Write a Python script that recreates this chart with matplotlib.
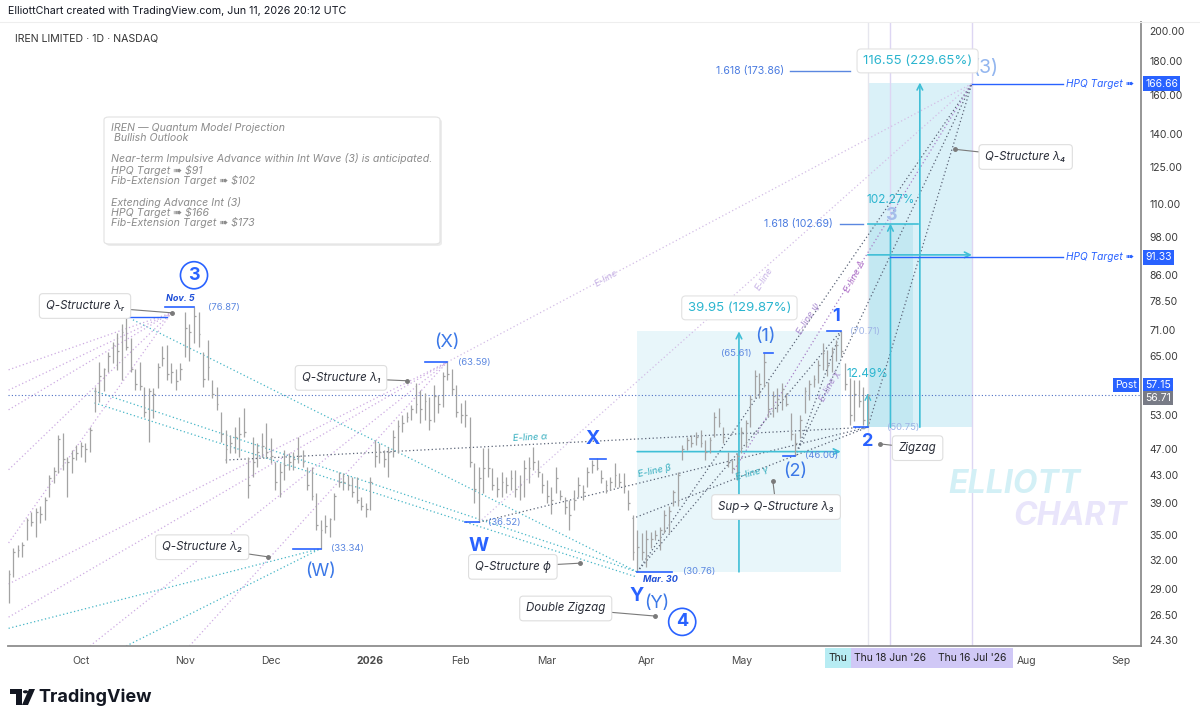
import numpy as np
import pandas as pd
import matplotlib
matplotlib.use('Agg')
import matplotlib.pyplot as plt
import matplotlib.transforms as mtransforms
from matplotlib.patches import Rectangle, FancyBboxPatch, Polygon, Circle
from matplotlib.ticker import FixedLocator, NullLocator, FuncFormatter

plt.rcParams['font.family'] = ['Inter', 'DejaVu Sans']

# ---------------- data ----------------
first_bar = '2025-09-09'
holidays = ['2025-11-27', '2025-12-25', '2026-01-01', '2026-01-19', '2026-02-16',
            '2026-04-03', '2026-05-25', '2026-06-19', '2026-07-03', '2026-09-07']

highs = [31.0, 33.4, 33.8, 34.1, 37.1, 37.8, 38.4, 38.6, 39.9, 43.0,
         44.2, 49.4, 49.8, 45.8, 46.9, 47.7, 48.3, 48.1, 50.8, 58.3,
         63.5, 62.3, 65.8, 68.2, 70.2, 72.6, 74.1, 69.1, 62.1, 63.5,
         58.3, 58.1, 58.1, 63.3, 67.2, 67.4, 63.3, 62.1, 63.3, 75.5,
         72.6, 76.87, 75.6, 65.8, 68.6, 59.8, 58.3, 53.5, 50.3, 49.4,
         50.8, 52.5, 54.3, 45.8, 49.1, 48.1, 49.8, 51.5, 48.9, 45.0,
         44.8, 46.9, 46.4, 46.6, 49.1, 46.9, 44.2, 44.2, 40.4, 36.8,
         37.5, 37.1, 40.4, 43.5, 43.3, 43.0, 42.7, 42.7, 39.8, 39.0,
         42.7, 48.6, 48.1, 46.9, 47.4, 50.3, 52.0, 52.9, 53.5, 54.8,
         59.2, 57.7, 57.1, 56.4, 58.7, 56.7, 61.4, 63.59, 62.1, 58.7,
         55.2, 55.8, 52.5, 44.8, 44.2, 47.2, 47.2, 44.0, 42.7, 43.5,
         42.7, 43.8, 43.8, 43.0, 45.3, 45.8, 47.4, 45.3, 43.3, 42.3,
         41.2, 44.2, 40.8, 39.8, 39.4, 40.8, 42.7, 41.5, 44.2, 45.3,
         45.6, 43.8, 42.3, 42.7, 44.8, 43.3, 43.3, 40.8, 37.5, 35.6,
         35.2, 35.6, 35.3, 35.6, 35.9, 38.1, 38.6, 40.8, 43.5, 47.7,
         49.1, 49.4, 50.0, 50.3, 48.6, 49.1, 53.5, 54.3, 50.8, 46.6,
         45.3, 46.4, 50.8, 52.0, 56.7, 61.9, 61.3, 65.61, 59.4, 57.5,
         58.1, 59.2, 57.1, 53.3, 49.8, 52.9, 58.3, 59.8, 60.8, 64.0,
         67.9, 66.3, 67.0, 68.6, 70.71, 63.3, 60.2, 59.8, 59.8, 58.3,
         56.9]
lows = [27.6, 30.2, 32.4, 32.4, 34.3, 36.0, 34.7, 36.4, 36.8, 39.8,
        41.8, 43.3, 43.8, 39.8, 43.3, 45.3, 45.8, 45.0, 46.6, 53.5,
        55.4, 57.5, 61.5, 63.3, 61.9, 59.8, 66.3, 61.5, 57.7, 57.7,
        52.5, 48.2, 52.4, 58.1, 62.7, 59.8, 59.2, 57.7, 59.8, 64.6,
        63.8, 68.0, 67.0, 58.3, 59.8, 56.2, 53.9, 48.2, 44.8, 46.4,
        46.4, 45.8, 49.1, 39.7, 42.7, 44.2, 45.8, 45.8, 44.8, 40.8,
        39.8, 42.3, 43.8, 43.8, 44.8, 44.2, 40.8, 39.4, 35.6, 33.34,
        35.2, 34.7, 36.8, 41.2, 40.8, 40.8, 39.8, 39.0, 38.1, 37.2,
        38.1, 44.2, 44.8, 44.2, 42.7, 45.8, 46.4, 49.9, 51.6, 52.0,
        53.3, 51.5, 52.0, 50.3, 51.6, 53.3, 54.4, 59.8, 56.7, 52.5,
        51.5, 50.8, 44.2, 39.0, 36.52, 40.4, 42.7, 40.8, 39.8, 39.8,
        40.4, 40.8, 39.8, 39.4, 39.8, 41.8, 43.8, 42.7, 40.4, 39.0,
        37.6, 40.4, 39.4, 37.6, 35.6, 38.1, 39.8, 39.4, 41.2, 43.3,
        43.8, 41.8, 40.4, 40.8, 41.2, 41.2, 40.4, 38.1, 32.0, 30.76,
        32.0, 31.3, 33.4, 34.3, 33.2, 35.2, 35.2, 38.6, 38.6, 45.3,
        46.9, 47.4, 47.7, 47.4, 45.3, 46.4, 49.1, 50.8, 48.1, 44.2,
        43.3, 42.3, 46.4, 47.4, 50.8, 56.2, 56.2, 58.3, 52.5, 52.5,
        53.5, 53.9, 54.6, 48.6, 46.0, 48.9, 53.3, 55.8, 58.3, 59.2,
        61.9, 60.6, 61.5, 63.8, 64.8, 57.7, 51.1, 51.8, 54.4, 51.1,
        50.75]
closes = [30.5, 33.0, 33.2, 33.8, 36.8, 36.5, 37.8, 37.6, 39.5, 42.5,
          43.6, 48.8, 45.5, 45.0, 45.6, 46.4, 47.5, 47.0, 50.2, 57.5,
          60.5, 62.0, 65.0, 67.5, 66.0, 70.5, 67.0, 62.0, 59.0, 58.5,
          53.5, 57.5, 57.0, 62.5, 64.5, 61.0, 61.5, 59.5, 62.0, 71.5,
          70.5, 74.5, 70.0, 60.0, 62.5, 57.0, 55.0, 49.5, 47.0, 48.0,
          49.0, 49.5, 50.0, 41.5, 45.0, 46.5, 47.5, 46.5, 46.0, 42.0,
          43.5, 44.5, 45.0, 45.5, 46.0, 45.0, 41.5, 40.0, 36.2, 35.5,
          36.0, 37.0, 40.0, 42.0, 42.0, 41.5, 40.5, 39.5, 38.7, 38.3,
          42.0, 46.0, 46.5, 45.5, 46.5, 49.0, 51.0, 51.5, 52.5, 54.0,
          55.0, 54.0, 55.5, 52.0, 56.5, 55.0, 60.5, 61.0, 58.0, 53.5,
          53.0, 53.0, 45.0, 41.0, 42.5, 44.0, 44.0, 41.5, 41.0, 42.0,
          41.5, 42.5, 41.0, 41.5, 44.0, 44.0, 45.0, 43.5, 41.5, 40.0,
          39.5, 42.5, 40.0, 38.5, 37.5, 39.5, 41.5, 40.5, 43.5, 44.5,
          44.0, 42.5, 41.5, 42.0, 43.0, 42.0, 41.5, 39.0, 33.0, 33.5,
          33.0, 34.5, 34.5, 35.0, 35.5, 37.5, 38.0, 40.5, 43.0, 47.0,
          48.5, 48.0, 49.0, 48.0, 46.5, 48.5, 52.5, 51.5, 49.0, 45.0,
          44.0, 46.0, 50.0, 51.5, 56.0, 60.5, 59.0, 63.5, 54.0, 56.5,
          56.0, 58.0, 55.0, 49.5, 48.0, 52.0, 57.5, 59.0, 60.0, 63.0,
          65.5, 63.0, 66.0, 67.5, 66.0, 59.0, 53.0, 57.0, 55.5, 52.0,
          56.71]

# wave pivots
pivot_dates = {'3': '2025-11-05', '(W)': '2025-12-16', '(X)': '2026-01-28',
               'W': '2026-02-06', 'X': '2026-03-17', 'Y': '2026-03-30',
               '(1)': '2026-05-08', '(2)': '2026-05-19', '1': '2026-06-03',
               '2': '2026-06-11', '(3)': '2026-07-16'}
pivot_prices = {'3': 76.87, '(W)': 33.34, '(X)': 63.59, 'W': 36.52, 'X': 45.6,
                'Y': 30.76, '(1)': 65.61, '(2)': 46.00, '1': 70.71, '2': 50.75,
                '(3)': 166.66}

# projections: (start date, end date, base, gain, percent)
proj_a = ('2026-03-30', '2026-06-03', 30.76, 39.95, 129.87)
proj_b = ('2026-06-11', '2026-07-16', 50.75, 116.55, 229.65)
proj_c = ('2026-06-11', '2026-06-26', 50.75, 51.90, 102.27)
last_leg_pct = 12.49
fib_levels = [173.86, 102.69]
hpq_targets = [166.66, 91.33]
last_close = 56.71
post_price = 57.15

y_ticks = [24.30, 26.50, 29.00, 32.00, 35.00, 39.00, 43.00, 47.00, 53.00, 65.00,
           71.00, 78.50, 86.00, 98.00, 110.00, 125.00, 140.00, 160.00, 180.00, 200.00]

# ---------------- setup ----------------
dates = pd.bdate_range(first_bar, '2026-10-30', freq='C', holidays=holidays)
kpos = {d.strftime('%Y-%m-%d'): i for i, d in enumerate(dates)}


def K(d):
    return kpos[d]


def pk(name):
    return K(pivot_dates[name]), pivot_prices[name]


def off(dx, dy):
    return (dx * 0.72, dy * 0.72)


BLUE = '#2962ff'
LBLUE = '#3b78e7'
CYAN = '#3fbfd6'
TEAL = '#45b5c6'
PURP = '#cdabe2'
DARK = '#5b6477'

fig = plt.figure(figsize=(12, 7.24), dpi=100)
ax = fig.add_axes([8 / 1200, 78 / 724, 1133 / 1200, 624 / 724])
ax.set_yscale('log')
ax.set_xlim(-0.13, 250.4)
ax.set_ylim(23.8, 206.3)

for s in ['top', 'left']:
    ax.spines[s].set_visible(False)
for s in ['right', 'bottom']:
    ax.spines[s].set_color('#8d8d8d')
    ax.spines[s].set_linewidth(1.3)

ax.yaxis.tick_right()
ax.yaxis.set_major_locator(FixedLocator(y_ticks))
ax.yaxis.set_minor_locator(NullLocator())
ax.yaxis.set_major_formatter(FuncFormatter(lambda v, p: f'{v:.2f}'))
ax.tick_params(axis='y', length=0, pad=6, labelsize=7.5, labelcolor='#3a3a3a')

# month ticks
mt, ml = [], []
for i in range(1, len(dates)):
    if dates[i].month != dates[i - 1].month and i < 251:
        m = dates[i].strftime('%b')
        if m in ('Jun', 'Jul'):
            continue
        mt.append(i)
        ml.append('2026' if dates[i].month == 1 else m)
ax.set_xticks(mt)
ax.set_xticklabels(ml)
ax.tick_params(axis='x', length=0, pad=7, labelsize=7.5, labelcolor='#4a4a4a')
for t in ax.get_xticklabels():
    if t.get_text() == '2026':
        t.set_fontweight('bold')

# ---------------- shaded projections ----------------
for (d0, d1, base, gain, _), fc in [(proj_a, '#e8f6fa'), (proj_b, '#daf1f8'), (proj_c, '#c3e8f2')]:
    k0, k1 = K(d0), K(d1)
    ax.add_patch(Rectangle((k0, base), k1 - k0, gain, fc=fc, ec='none', zorder=0))

for d0, d1, base, gain, _ in [proj_a, proj_b]:
    k0, k1 = K(d0), K(d1)
    kc = (k0 + k1) / 2
    mid = np.sqrt(base * (base + gain))
    ax.annotate('', xy=(kc, base + gain), xytext=(kc, base),
                arrowprops=dict(arrowstyle='->', color=CYAN, lw=1.2, shrinkA=0, shrinkB=0), zorder=2)
    ax.annotate('', xy=(k1, mid), xytext=(k0, mid),
                arrowprops=dict(arrowstyle='->', color=CYAN, lw=1.2, shrinkA=0, shrinkB=0), zorder=2)
kc0, kc1 = K(proj_c[0]), K(proj_c[1])
ax.annotate('', xy=((kc0 + kc1) / 2, proj_c[2] + proj_c[3]), xytext=((kc0 + kc1) / 2, proj_c[2]),
            arrowprops=dict(arrowstyle='->', color=CYAN, lw=1.2, shrinkA=0, shrinkB=0), zorder=2)
ax.plot([kc0, kc1 + 1], [proj_c[2] + proj_c[3]] * 2, color=CYAN, lw=1.2, zorder=2)
k2 = K(pivot_dates['2'])
ax.annotate('', xy=(k2, 50.75 * (1 + last_leg_pct / 100)), xytext=(k2, 50.75),
            arrowprops=dict(arrowstyle='->', color=CYAN, lw=1.0, shrinkA=0, shrinkB=0), zorder=2)

# vertical date lines
for d, c in [('2026-06-11', '#e6e6ee'), ('2026-06-18', '#ddd6f3'), ('2026-07-16', '#ddd6f3')]:
    ax.axvline(K(d), color=c, lw=1.0, zorder=0.5)

# ---------------- trend lines ----------------
T3 = pk('(3)')
lines = [
    # teal, down to Y / (W)
    ((27.5, 73.6), pk('Y'), TEAL), ((19, 57.5), pk('Y'), TEAL), ((19, 55.2), (139, 30.2), TEAL),
    ((0, 25.3), pk('(W)'), TEAL), ((26, 23.8), pk('(W)'), TEAL),
    # purple fans
    ((0, 61.9), (36, 75.4), PURP), ((0, 57.7), (36, 75.4), PURP), ((0, 53.9), (36, 75.4), PURP),
    ((0, 43.8), (36, 75.4), PURP), ((0, 34.0), (36, 75.4), PURP),
    ((0, 29.5), pk('(X)'), PURP), ((0, 26.3), pk('(X)'), PURP), ((18, 23.8), pk('(X)'), PURP),
    ((40, 23.8), pk('(X)'), PURP),
    (pk('(X)'), T3, '#d3bde6'), (pk('W'), T3, '#d3bde6'),
    # e-lines
    ((48, 45.3), pk('2'), DARK), (pk('W'), pk('2'), DARK), ((138, 37.0), pk('2'), DARK),
    (pk('Y'), T3, DARK), (pk('(2)'), T3, DARK), ((160, 43.3), T3, '#a77fc7'), (pk('2'), T3, DARK),
    (pk('Y'), pk('1'), DARK), (pk('(2)'), pk('1'), DARK),
]
for (xa, ya), (xb, yb), c in lines:
    ax.plot([xa, xb], [ya, yb], color=c, lw=0.9, ls=(0, (1, 2)), zorder=1)

ax.axhline(last_close, color='#4d6fc4', lw=0.8, ls=(0, (1, 2)), zorder=1)

# ---------------- OHLC bars ----------------
xs = np.arange(len(highs))
ax.vlines(xs, lows, highs, color='#a3a3a3', lw=0.9, zorder=3)
ax.hlines(closes, xs, xs + 0.4, color='#a3a3a3', lw=0.9, zorder=3)

# ---------------- wave labels ----------------
def wl(name, dx, dy, text=None, size=13, weight='normal', color=LBLUE, **kw):
    k, p = pk(name)
    ax.annotate(text or name, xy=(k, p), xytext=off(dx, dy), textcoords='offset points',
                ha='center', va='center', fontsize=size, fontweight=weight, color=color, zorder=7, **kw)


def lvl(name, k_from, dx, txt=None, ha='left', color='#5b87e0'):
    k, p = pk(name)
    ax.plot([k_from, k], [p, p], color=BLUE, lw=1.2, zorder=5)
    ax.annotate(txt or f'({p:.2f})', xy=(k, p), xytext=off(dx, 0), textcoords='offset points',
                ha=ha, va='center', fontsize=6.8, color=color, zorder=7)


circ = dict(boxstyle='circle,pad=0.28', fc='white', ec=BLUE, lw=1.2)
wl('3', 0, 32, size=13, weight='bold', color=BLUE, bbox=circ)
wl('3', -14, 9, text='Nov. 5', size=6.5, weight='bold', color='#1f4fd8', style='italic')
lvl('3', 34.6, 14)
ax.plot([26.2, 35], [74.2, 74.2], color=BLUE, lw=1.0, zorder=5)

wl('(W)', 0, -23)
lvl('(W)', 63, 10)
wl('(X)', 0, 20)
lvl('(X)', 92, 11)
wl('W', 0, -24, size=14, weight='bold', color=BLUE)
lvl('W', 101, 9)
wl('X', -4, 19, size=14, weight='bold', color=BLUE)
ax.plot([128.5, 132], [45.5, 45.5], color=BLUE, lw=1.2, zorder=5)
wl('Y', -1, -24, size=14, weight='bold', color=BLUE)
wl('Y', 19, -32, text='(Y)')
wl('Y', 45, -50, text='4', size=13, weight='bold', color=BLUE, bbox=circ)
wl('Y', 23, -8, text='Mar. 30', size=6.5, weight='bold', color='#1f4fd8', style='italic')
lvl('Y', 146.7, 46)
wl('(1)', 1, 17)
lvl('(1)', 169, -12, ha='right')
wl('(2)', 0, -16)
lvl('(2)', 171.2, 10)
wl('1', -5, 15, size=13, weight='bold', color=BLUE)
lvl('1', 181, 9, color='#9fb4e6')
wl('2', 0, -14, size=13, weight='bold', color=BLUE)
lvl('2', 187, 19, color='#9fb4e6')
wl('(3)', 14, 16, size=14, color='#93b6ef')
ax.text(195, 105.5, '3', ha='center', va='center', fontsize=13, fontweight='bold', color='#a4bdea', zorder=6)

# ---------------- callouts ----------------
def callout(text, bk, bp, dk, dp):
    ax.annotate(text, xy=(dk, dp), xytext=(bk, bp), textcoords='data', ha='center', va='center',
                fontsize=8.3, style='italic', color='#2a2e39',
                bbox=dict(boxstyle='round,pad=0.55,rounding_size=0.3', fc='white', ec='#dedede', lw=0.8),
                arrowprops=dict(arrowstyle='-', color='#7a7a7a', lw=0.8, shrinkA=0, shrinkB=0), zorder=8)
    ax.plot(dk, dp, 'o', ms=2.5, color='#7a7a7a', zorder=8)


callout('Q-Structure λᵣ', 16.9, 77.2, 36.1, 75.4)
callout('Q-Structure λ₁', 73.5, 60.2, 88.1, 59.6)
callout('Q-Structure λ₂', 42.8, 33.5, 57.4, 32.4)
callout('Q-Structure ϕ', 111.5, 31.3, 126.3, 31.7)
callout('Double Zigzag', 123.2, 27.1, 142.9, 26.4)
callout('Sup→ Q-Structure λ₃', 169.7, 38.5, 169.0, 42.1)
callout('Zigzag', 201.0, 47.2, 192.7, 47.9)
callout('Q-Structure λ₄', 224.9, 129.3, 209.2, 132.8)

# projection text
pbox = dict(boxstyle='round,pad=0.45,rounding_size=0.3', fc='white', ec='#e2e2e2', lw=0.8)
ax.text(161.6, 76.7, f'{proj_a[3]:.2f} ({proj_a[4]:.2f}%)', ha='center', va='center',
        fontsize=9.5, color='#2bb5cf', bbox=pbox, zorder=8)
ax.text(201.0, 180.3, f'{proj_b[3]:.2f} ({proj_b[4]:.2f}%)', ha='center', va='center',
        fontsize=9.5, color='#2bb5cf', bbox=pbox, zorder=8)
ax.text(195.0, 111.5, f'{proj_c[4]:.2f}%', ha='center', va='center', fontsize=8.5, color='#2bb5cf', zorder=7)
ax.text(190.0, 61.0, f'{last_leg_pct:.2f}%', ha='center', va='center', fontsize=8.5, color='#2bb5cf', zorder=7)

# fib + hpq
for lv, k_txt, k0, k1 in [(fib_levels[0], 171.4, 172.8, 186.0), (fib_levels[1], 182.3, 183.8, 188.9)]:
    ax.plot([k0, k1], [lv, lv], color='#5b87e0', lw=1.0, zorder=4)
    ax.text(k_txt, lv, f'1.618 ({lv:.2f})', ha='right', va='center', fontsize=7.6, color='#4a7be0', zorder=7)
for lv, k0 in [(hpq_targets[0], 213), (hpq_targets[1], 195)]:
    ax.plot([k0, 233.1], [lv, lv], color=BLUE, lw=1.0, zorder=4)
    ax.text(233.8, lv, 'HPQ Target ➠', ha='left', va='center', fontsize=7.3, style='italic',
            color=BLUE, zorder=7)

# e-line labels
for txt, k, p, rot, c in [('E-line α', 115.3, 48.9, 3, '#35aebf'), ('E-line β', 142.9, 43.6, 12, '#35aebf'),
                          ('E-line γ', 164.4, 43.3, 15, '#35aebf'), ('E-line ψ', 176.9, 74.0, 58, '#a98bd0'),
                          ('E-line χ', 181.6, 58.5, 62, '#a98bd0'), ('E-line Δ', 187.1, 85.4, 62, '#b070c8'),
                          ('E-line', 167.0, 84.8, 58, '#c8b4e6'), ('E-line', 132.1, 84.8, 30, '#c8b4e6')]:
    ax.text(k, p, txt, rotation=rot, rotation_mode='anchor', ha='center', va='center', fontsize=6.8,
            style='italic', color=c, zorder=6)

# watermark
ax.text(222.5, 41.6, 'ELLIOTT', ha='center', va='center', fontsize=23, fontweight='bold',
        style='italic', color='#d3f0f6', zorder=0.6)
ax.text(234.7, 37.3, 'CHART', ha='center', va='center', fontsize=23, fontweight='bold',
        style='italic', color='#e9e5fb', zorder=0.6)

# price tags
def tag(val, txt, fc, dy=0):
    ax.annotate(txt, xy=(1, val), xycoords=('axes fraction', 'data'), xytext=(3, dy * 0.72),
                textcoords='offset points', ha='left', va='center', fontsize=7.5, color='white',
                bbox=dict(boxstyle='square,pad=0.22', fc=fc, ec='none'), annotation_clip=False, zorder=9)


tag(hpq_targets[0], f'{hpq_targets[0]:.2f}', BLUE)
tag(hpq_targets[1], f'{hpq_targets[1]:.2f}', BLUE)
tag(post_price, f'{post_price:.2f}', BLUE, dy=8)
tag(last_close, f'{last_close:.2f}', '#787b86', dy=-3)
ax.annotate('Post', xy=(1, post_price), xycoords=('axes fraction', 'data'), xytext=(-3, 8 * 0.72),
            textcoords='offset points', ha='right', va='center', fontsize=7.5, color='white',
            bbox=dict(boxstyle='square,pad=0.22', fc=BLUE, ec='none'), zorder=9)

# date-axis highlight boxes
bt = mtransforms.blended_transform_factory(ax.transData, fig.transFigure)
y0, y1 = 1 - 668 / 724, 1 - 648 / 724
ax.add_patch(Rectangle((180.5, y0), 5.8, y1 - y0, transform=bt, fc='#b7ecf3', ec='none', clip_on=False))
ax.add_patch(Rectangle((186.3, y0), 35.8, y1 - y0, transform=bt, fc='#d0c8f6', ec='none', clip_on=False))
ax.text(183.5, (y0 + y1) / 2, 'Thu', transform=bt, ha='center', va='center', fontsize=7.5, color='#222')
ax.text(K('2026-06-18'), (y0 + y1) / 2, "Thu 18 Jun '26", transform=bt, ha='center', va='center',
        fontsize=7.5, color='#222')
ax.text(K('2026-07-16'), (y0 + y1) / 2, "Thu 16 Jul '26", transform=bt, ha='center', va='center',
        fontsize=7.5, color='#222')

# ---------------- figure level text ----------------
def F(x, y):
    return (x / 1200, 1 - y / 724)


fig.text(*F(8, 11), 'ElliottChart created with TradingView.com, Jun 11, 2026 20:12 UTC',
         fontsize=7.7, color='#131722', va='center')
fig.add_artist(plt.Line2D([0, 1], [1 - 22 / 724] * 2, color='#eeeeee', lw=0.8))
fig.text(*F(15, 38), 'IREN LIMITED · 1D · NASDAQ', fontsize=7.6, color='#333333', va='center')

# info box
shadow = FancyBboxPatch(F(106, 246), 336 / 1200, 127 / 724, boxstyle='round,pad=0,rounding_size=0.004',
                        transform=fig.transFigure, fc='#ececec', ec='none')
box = FancyBboxPatch(F(104, 244), 336 / 1200, 127 / 724, boxstyle='round,pad=0,rounding_size=0.004',
                     transform=fig.transFigure, fc='white', ec='#e2e2e2', lw=0.8)
fig.add_artist(shadow)
fig.add_artist(box)
info = [(128, 'IREN — Quantum Model Projection'), (138, ' Bullish Outlook'),
        (159, 'Near-term Impulsive Advance within Int Wave (3) is anticipated.'),
        (170, 'HPQ Target ➠ $91'), (181, 'Fib-Extension Target ➠ $102'),
        (202, 'Extending Advance Int (3)'), (213, 'HPQ Target ➠ $166'),
        (223, 'Fib-Extension Target ➠ $173')]
for yy, t in info:
    fig.text(*F(111, yy), t, fontsize=7.6, style='italic', color='#8c8c8c', va='center')

# TradingView logo
tv = '#131722'
fig.add_artist(Polygon([F(10, 689), F(22, 689), F(22, 705), F(16, 705), F(16, 694), F(10, 694)],
                       closed=True, transform=fig.transFigure, fc=tv, ec='none'))
fig.add_artist(Circle(F(25.5, 691.8), 2.6 / 1200, transform=fig.transFigure, fc=tv, ec='none'))
fig.add_artist(Polygon([F(29, 689), F(35, 689), F(28, 705), F(22, 705)], closed=True,
                       transform=fig.transFigure, fc=tv, ec='none'))
fig.text(*F(38, 697), 'TradingView', fontsize=13, fontweight='bold', color=tv, va='center')

fig.savefig('out.png', dpi=100)
